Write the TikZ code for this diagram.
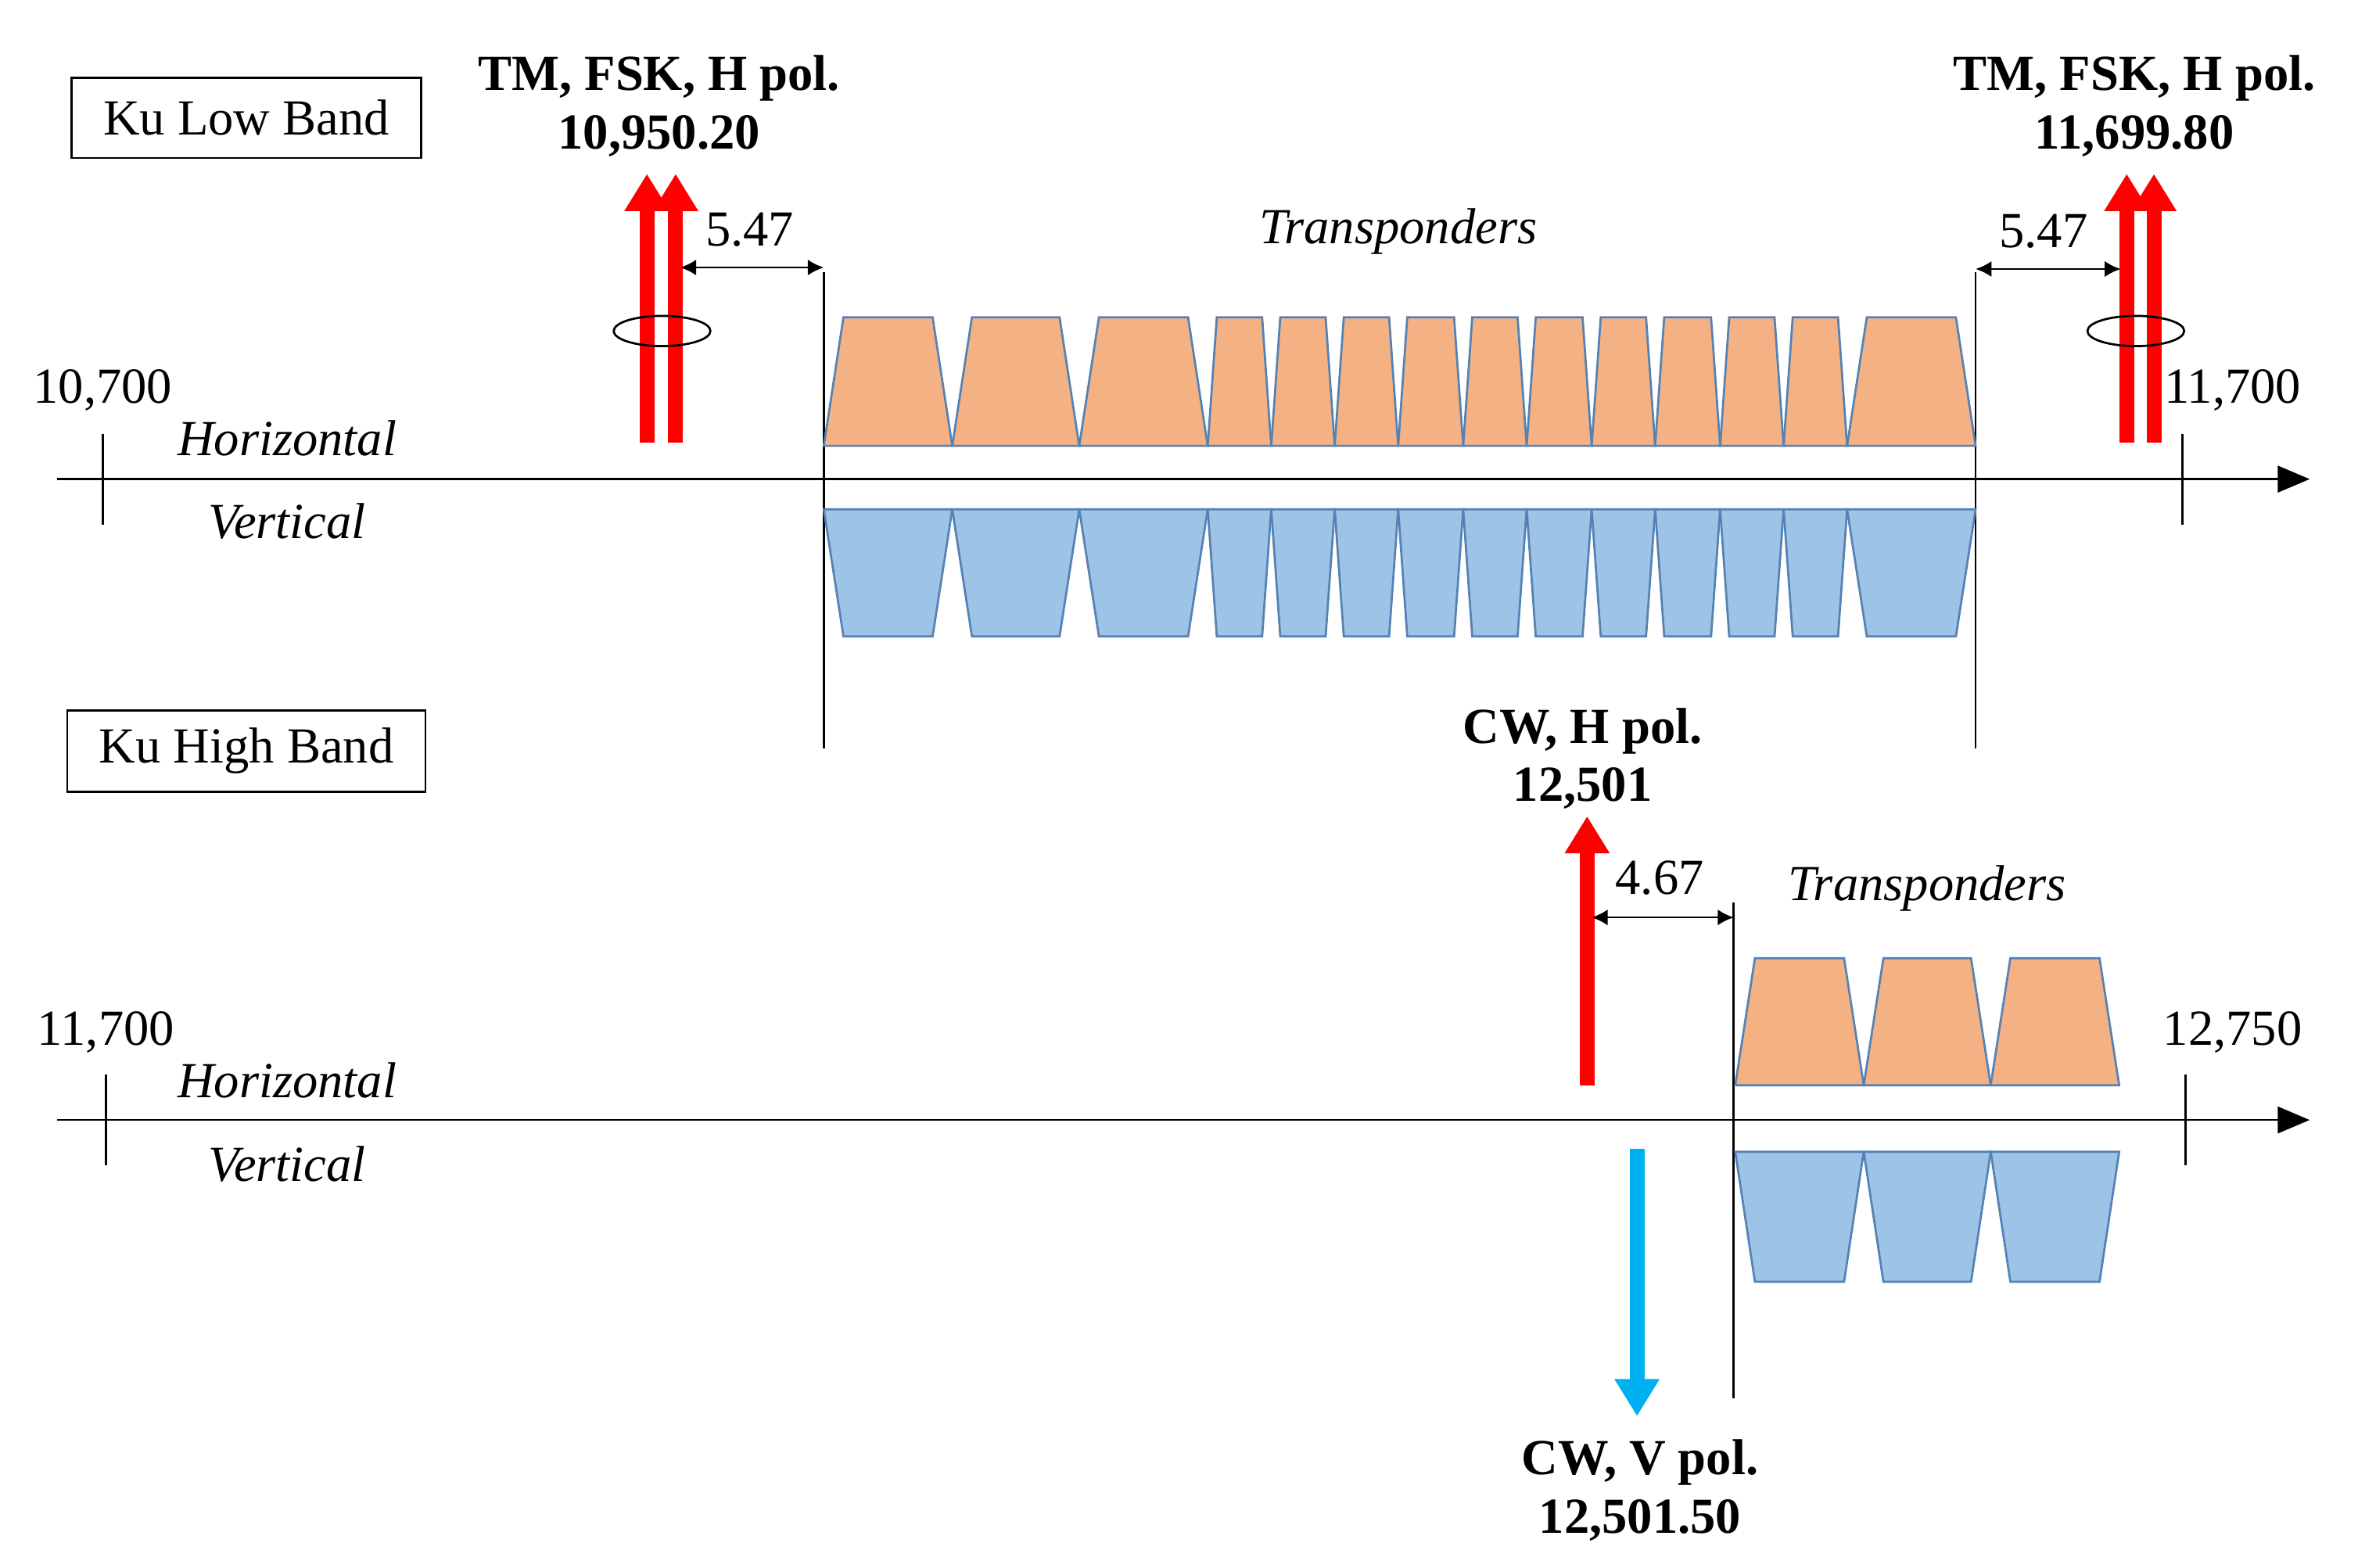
\documentclass[tikz,border=0pt]{standalone}
\usepackage{fontspec}
\setmainfont{Liberation Serif}
\usetikzlibrary{arrows.meta}
\definecolor{hfill}{RGB}{244,177,131}
\definecolor{vfill}{RGB}{157,195,230}
\definecolor{edgeblue}{RGB}{84,130,180}
\definecolor{cwblue}{RGB}{0,176,240}
\begin{document}
\begin{tikzpicture}[x=0.01cm,y=-0.01cm,font=\fontsize{9.5}{11}\selectfont]
\tikzset{axis/.style = {thin,-{Triangle[length=6pt,width=5pt]}}}
\tikzset{dim/.style = {thin,{Latex[length=3pt,width=3pt]}-{Latex[length=3pt,width=3pt]}}}
\tikzset{carrier/.style = {line width=2.8pt,-{Triangle[length=7pt,width=8pt]}}}
\tikzset{band/.style = {draw,thin,inner xsep=6pt,minimum height=0.53cm}}
\tikzset{hx/.style = {fill=hfill,draw=edgeblue,thin}}
\tikzset{vx/.style = {fill=vfill,draw=edgeblue,thin}}
\useasboundingbox (0,0) rectangle (1560,1037);
% Ku low band
\node[band] (low) at (163,78) {Ku Low Band};
\coordinate (a0) at (38,317); \coordinate (a1) at (1528,317);
\draw[axis] (a0) -- (a1);
\draw (68,287) -- (68,347) (1444,287) -- (1444,347);
\node (f0) at (68,258) {10,700};
\node (f1) at (1477,258) {11,700};
\node[font=\fontsize{9.5}{11}\itshape] (hl) at (190,290) {Horizontal};
\node[font=\fontsize{9.5}{11}\itshape] (vl) at (190,345) {Vertical};
\draw (545,180) -- (545,495) (1307,180) -- (1307,495);
\foreach \a/\b/\i in {545/630/13,630/714/13,714/799/13,799/841/6,841/883/6,883/925/6,925/968/6,968/1010/6,1010/1053/6,1053/1095/6,1095/1138/6,1138/1180/6,1180/1222/6,1222/1307/13}{
  \draw[hx] (\a,295) -- (\a+\i,210) -- (\b-\i,210) -- (\b,295) -- cycle;
  \draw[vx] (\a,337) -- (\b,337) -- (\b-\i,421) -- (\a+\i,421) -- cycle;
}
\node[font=\fontsize{9.5}{11}\itshape] (tl) at (925,153) {Transponders};
\draw[carrier,red] (428,293) -- (428,115);
\draw[carrier,red] (447,293) -- (447,115);
\draw[thin] (438,219) ellipse (32 and 10);
\coordinate (d0) at (450,177); \coordinate (d1) at (545,177);
\draw[dim] (d0) -- (d1);
\node (g0) at (496,152) {5.47};
\node[font=\fontsize{9.5}{11}\bfseries,align=center] (tm0) at (436,70) {TM, FSK, H pol.\\10,950.20};
\draw[carrier,red] (1407,293) -- (1407,115);
\draw[carrier,red] (1425,293) -- (1425,115);
\draw[thin] (1413,219) ellipse (32 and 10);
\coordinate (d2) at (1307,178); \coordinate (d3) at (1403,178);
\draw[dim] (d2) -- (d3);
\node (g1) at (1352,153) {5.47};
\node[font=\fontsize{9.5}{11}\bfseries,align=center] (tm1) at (1412,70) {TM, FSK, H pol.\\11,699.80};
% Ku high band
\node[band] (high) at (163,497) {Ku High Band};
\coordinate (b0) at (38,741); \coordinate (b1) at (1528,741);
\draw[axis] (b0) -- (b1);
\draw (70,711) -- (70,771) (1446,711) -- (1446,771);
\node (f2) at (70,683) {11,700};
\node (f3) at (1477,683) {12,750};
\node[font=\fontsize{9.5}{11}\itshape] (hh) at (190,715) {Horizontal};
\node[font=\fontsize{9.5}{11}\itshape] (vh) at (190,770) {Vertical};
\draw (1147,597) -- (1147,925);
\foreach \a/\b in {1148/1233,1233/1317,1317/1402}{
  \draw[hx] (\a,718) -- (\a+13,634) -- (\b-13,634) -- (\b,718) -- cycle;
  \draw[vx] (\a,762) -- (\b,762) -- (\b-13,848) -- (\a+13,848) -- cycle;
}
\node[font=\fontsize{9.5}{11}\itshape] (th) at (1275,588) {Transponders};
\draw[carrier,red] (1050,718) -- (1050,540);
\node[font=\fontsize{9.5}{11}\bfseries,align=center] (cwh) at (1047,502) {CW, H pol.\\12,501};
\coordinate (d4) at (1053,607); \coordinate (d5) at (1147,607);
\draw[dim] (d4) -- (d5);
\node (g2) at (1098,581) {4.67};
\draw[carrier,cwblue] (1083,760) -- (1083,937);
\node[font=\fontsize{9.5}{11}\bfseries,align=center] (cwv) at (1085,986) {CW, V pol.\\12,501.50};
\end{tikzpicture}
\end{document}
